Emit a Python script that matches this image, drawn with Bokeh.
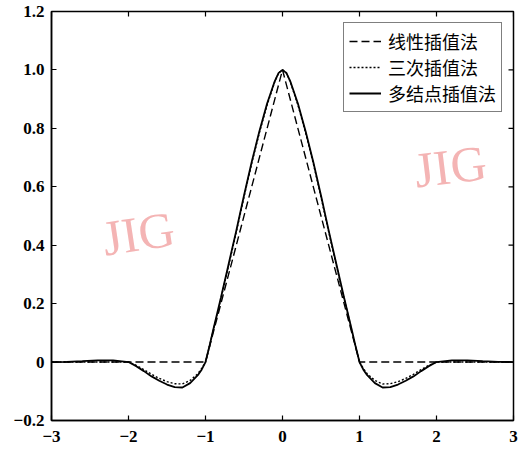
from bokeh.plotting import figure
from bokeh.models import Legend, LegendItem, FixedTicker, Label, Range1d
from bokeh.embed import file_html
from bokeh.resources import INLINE

# ---- data ----
linear_x = [-3, -2, -1, 0, 1, 2, 3]
linear_y = [0, 0, 0, 1, 0, 0, 0]

curve_x = [-3.0, -2.8, -2.6, -2.4, -2.2, -2.0, -1.9, -1.8, -1.7, -1.6, -1.5, -1.4, -1.3, -1.2,
           -1.1, -1.05, -1.0, -0.95, -0.9, -0.8, -0.7, -0.6, -0.5, -0.4, -0.3, -0.2, -0.1, -0.05,
           0.0,
           0.05, 0.1, 0.2, 0.3, 0.4, 0.5, 0.6, 0.7, 0.8, 0.9, 0.95, 1.0, 1.05, 1.1,
           1.2, 1.3, 1.4, 1.5, 1.6, 1.7, 1.8, 1.9, 2.0, 2.2, 2.4, 2.6, 2.8, 3.0]

multi_y = [0.0, 0.001, 0.003, 0.006, 0.006, 0.0, -0.014, -0.031, -0.049, -0.064, -0.077, -0.086, -0.087, -0.072,
           -0.045, -0.026, 0.0, 0.053, 0.11, 0.22, 0.335, 0.45, 0.57, 0.685, 0.79, 0.885, 0.962, 0.99,
           1.0,
           0.99, 0.962, 0.885, 0.79, 0.685, 0.57, 0.45, 0.335, 0.22, 0.11, 0.053, 0.0, -0.026, -0.045,
           -0.072, -0.087, -0.086, -0.077, -0.064, -0.049, -0.031, -0.014, 0.0, 0.006, 0.006, 0.003, 0.001, 0.0]

cubic_y = [0.0, 0.0, 0.0, 0.0, 0.0, 0.0, -0.011, -0.026, -0.042, -0.056, -0.067, -0.074, -0.075, -0.063,
           -0.040, -0.022, 0.0, 0.052, 0.108, 0.217, 0.33, 0.445, 0.565, 0.68, 0.785, 0.88, 0.96, 0.99,
           1.0,
           0.99, 0.96, 0.88, 0.785, 0.68, 0.565, 0.445, 0.33, 0.217, 0.108, 0.052, 0.0, -0.022, -0.040,
           -0.063, -0.075, -0.074, -0.067, -0.056, -0.042, -0.026, -0.011, 0.0, 0.0, 0.0, 0.0, 0.0, 0.0]

labels = ["线性插值法", "三次插值法", "多结点插值法"]
x_ticks = [-3, -2, -1, 0, 1, 2, 3]
y_ticks = [-0.2, 0, 0.2, 0.4, 0.6, 0.8, 1.0, 1.2]
y_tick_labels = {-0.2: "\u22120.2", 0: "0", 0.2: "0.2", 0.4: "0.4", 0.6: "0.6",
                 0.8: "0.8", 1.0: "1.0", 1.2: "1.2"}
x_tick_labels = {-3: "\u22123", -2: "\u22122", -1: "\u22121", 0: "0", 1: "1", 2: "2", 3: "3"}

X0, X1, Y0, Y1 = -3, 3, -0.2, 1.2
W, H = 526, 449
BL, BR, BT, BB = 51, 13, 11, 29

p = figure(width=W, height=H, output_backend="svg", toolbar_location=None,
           x_range=Range1d(X0, X1), y_range=Range1d(Y0, Y1),
           min_border_left=BL, min_border_right=BR, min_border_top=BT, min_border_bottom=BB)
p.grid.visible = False
p.outline_line_color = "black"
p.outline_line_width = 1.5
p.background_fill_color = "white"
p.border_fill_color = "white"

r_lin = p.line(linear_x, linear_y, line_color="black", line_width=1.4, line_dash="8 4")
r_cub = p.line(curve_x, cubic_y, line_color="black", line_width=1.4, line_dash="2 2")
r_mul = p.line(curve_x, multi_y, line_color="black", line_width=1.8)

font = "Liberation Serif"
for ax in [p.xaxis[0], p.yaxis[0]]:
    ax.major_tick_in = 5
    ax.major_tick_out = 0
    ax.minor_tick_line_color = None
    ax.axis_line_color = "black"
    ax.axis_line_width = 1.5
    ax.major_tick_line_width = 1.2
    ax.major_label_text_font = font
    ax.major_label_text_font_size = "17px"
    ax.major_label_text_font_style = "bold"
    ax.major_label_text_color = "black"

p.xaxis[0].ticker = FixedTicker(ticks=x_ticks)
p.xaxis[0].major_label_overrides = x_tick_labels
p.xaxis[0].major_label_standoff = 10
p.yaxis[0].ticker = FixedTicker(ticks=y_ticks)
p.yaxis[0].major_label_overrides = y_tick_labels
p.yaxis[0].major_label_standoff = 7

# inward ticks on the top and right edges of the box (5 px long)
fw = W - BL - BR
fh = H - BT - BB
ty = 5 * (Y1 - Y0) / fh
tx = 5 * (X1 - X0) / fw
p.segment(x0=x_ticks, y0=[Y1] * len(x_ticks), x1=x_ticks, y1=[Y1 - ty] * len(x_ticks),
          line_color="black", line_width=1.2)
p.segment(x0=[X1] * len(y_ticks), y0=y_ticks, x1=[X1 - tx] * len(y_ticks), y1=y_ticks,
          line_color="black", line_width=1.2)

legend = Legend(items=[LegendItem(label=labels[0], renderers=[r_lin]),
                       LegendItem(label=labels[1], renderers=[r_cub]),
                       LegendItem(label=labels[2], renderers=[r_mul])],
                location="top_right")
legend.label_text_font = "Noto Sans CJK SC"
legend.label_text_font_size = "18px"
legend.label_text_line_height = 0.8
legend.label_text_color = "black"
legend.border_line_color = "black"
legend.border_line_width = 1.5
legend.background_fill_color = "white"
legend.background_fill_alpha = 1.0
legend.padding = 5
legend.spacing = 0
legend.margin = 11
legend.glyph_width = 32
legend.glyph_height = 18
legend.label_height = 18
legend.label_standoff = 7
p.add_layout(legend)

wm_color = "#f4b4b4"
p.add_layout(Label(x=-1.87, y=0.44, text="JIG", text_font=font, text_font_size="50px",
                   text_color=wm_color, angle=0.15, text_align="center", text_baseline="middle"))
p.add_layout(Label(x=2.18, y=0.67, text="JIG", text_font=font, text_font_size="50px",
                   text_color=wm_color, angle=0.12, text_align="center", text_baseline="middle"))

open("out.html", "w").write(file_html(p, INLINE))
